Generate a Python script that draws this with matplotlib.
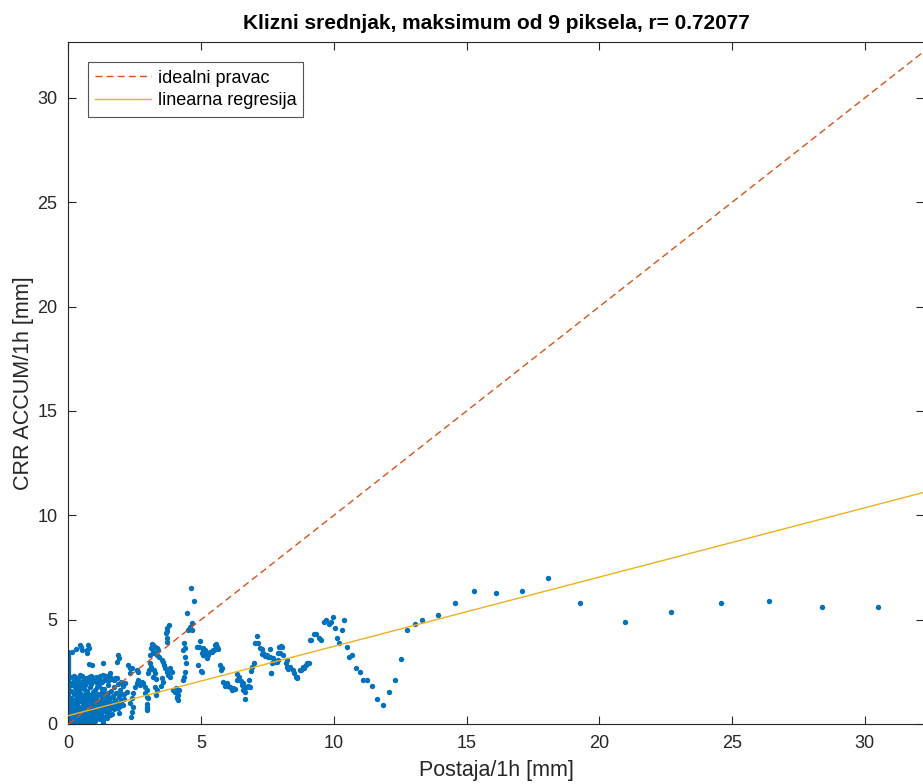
import numpy as np
import matplotlib
matplotlib.use("Agg")
import matplotlib.pyplot as plt

plt.rcParams['font.family'] = ['Liberation Sans', 'DejaVu Sans']

# points with zero gauge rain (x = 0)
zero_y = [0.02, 0.08, 0.14, 0.22, 0.3, 0.37, 0.45, 0.52, 0.6, 0.68, 0.75, 0.83, 0.9,
          0.98, 1.05, 1.13, 1.2, 1.28, 1.36, 1.44, 1.5, 1.58, 1.66, 1.74, 1.82, 1.9,
          1.97, 2.05, 2.13, 2.2, 2.28, 2.36, 2.45, 2.53, 2.62, 2.7, 2.79, 2.88, 2.97,
          3.06, 3.15, 3.25, 3.35, 3.45]

# dense cluster of small hourly amounts
low_x = [0.05, 0.1, 0.12, 0.18, 0.2, 0.25, 0.27, 0.3, 0.33, 0.38, 0.4, 0.42, 0.45, 0.5,
         0.52, 0.55, 0.58, 0.6, 0.63, 0.67, 0.7, 0.72, 0.75, 0.8, 0.83, 0.85, 0.9, 0.93,
         0.95, 1.0, 1.02, 1.05, 1.1, 1.12, 1.15, 1.2, 1.22, 1.25, 1.3, 1.32, 1.35, 1.4,
         1.45, 1.48, 1.5, 1.55, 1.6, 1.62, 1.68, 1.7, 1.75, 1.8, 1.85, 1.9, 1.95, 2.0,
         2.05, 2.1, 2.15, 2.2,
         0.08, 0.15, 0.22, 0.28, 0.35, 0.4, 0.47, 0.55, 0.6, 0.68, 0.73, 0.8, 0.88, 0.95,
         1.02, 1.08, 1.15, 1.22, 1.28, 1.35, 1.42, 1.5, 1.58, 1.65, 1.72, 1.8, 1.88, 1.97,
         0.06, 0.13, 0.2, 0.26, 0.32, 0.38, 0.44, 0.5, 0.57, 0.63, 0.7, 0.77, 0.84, 0.9,
         0.97, 1.04, 1.1, 1.17, 1.24, 1.3, 1.37, 1.44, 1.52, 1.6, 1.7, 1.78, 1.86, 1.95, 2.05,
         0.1, 0.17, 0.24, 0.31, 0.37, 0.43, 0.5, 0.56, 0.62, 0.7, 0.78, 0.86, 0.93, 1.0,
         1.08, 1.16, 1.25, 1.33, 1.4, 1.5, 1.6, 1.72, 1.82, 2.1,
         0.07, 0.14, 0.2, 0.3, 0.36, 0.45, 0.53, 0.6, 0.66, 0.75, 0.82, 0.9, 0.98, 1.06,
         1.12, 1.2, 1.28, 1.38, 1.46, 1.55, 1.65, 1.9,
         0.12, 0.2, 0.28, 0.4, 0.45, 0.52, 0.65, 0.78, 0.85, 0.95, 1.05, 1.18, 1.3, 1.42,
         1.58, 1.75, 2.0,
         0.09, 0.18, 0.25, 0.35, 0.42, 0.48, 0.6, 0.72, 0.88, 1.0, 1.3, 1.31, 1.32,
         0.15, 0.3, 0.45, 0.47, 0.5, 0.9, 1.3, 1.55,
         0.04, 0.16, 0.23, 0.34, 0.41, 0.54, 0.64, 0.74, 0.81, 0.92, 1.03, 1.14, 1.26,
         1.36, 1.47, 0.11, 0.29, 0.39, 0.49, 0.59, 0.69, 0.87, 0.99, 1.09, 1.19, 1.34,
         1.53, 1.63]
low_y = [1.0, 1.25, 0.75, 1.1, 1.45, 0.9, 1.2, 1.6, 1.0, 1.35, 0.8, 1.15, 1.5, 1.05,
         1.3, 0.85, 1.7, 1.2, 1.45, 0.95, 1.6, 1.25, 1.05, 1.4, 1.75, 0.9, 1.15, 1.55,
         1.3, 1.0, 1.65, 1.25, 1.45, 0.85, 1.8, 1.1, 1.35, 1.55, 1.2, 0.95, 1.7, 1.4,
         1.1, 1.5, 1.85, 1.25, 1.6, 0.95, 1.35, 1.75, 1.15, 1.5, 1.9, 1.3, 1.65, 1.45,
         1.8, 1.2, 1.95, 1.55,
         0.6, 0.7, 0.55, 0.65, 0.7, 0.5, 0.6, 0.55, 0.75, 0.65, 0.8, 0.6, 0.75, 0.7,
         0.85, 0.6, 0.9, 0.7, 0.95, 0.75, 0.85, 0.9, 0.8, 1.0, 0.85, 1.05, 0.95, 1.1,
         0.35, 0.45, 0.3, 0.4, 0.5, 0.35, 0.45, 0.4, 0.3, 0.5, 0.45, 0.55, 0.4, 0.5,
         0.6, 0.45, 0.55, 0.65, 0.5, 0.6, 0.7, 0.55, 0.65, 0.75, 0.7, 0.8, 0.75, 0.85, 0.9,
         1.85, 2.0, 1.75, 1.9, 2.1, 1.8, 1.95, 2.05, 1.85, 2.0, 2.15, 1.9, 2.05, 2.1,
         1.95, 2.15, 2.0, 2.1, 2.2, 2.05, 2.15, 2.1, 2.2, 1.45,
         0.15, 0.2, 0.1, 0.25, 0.15, 0.2, 0.25, 0.12, 0.3, 0.2, 0.25, 0.3, 0.2, 0.35,
         0.3, 0.25, 0.4, 0.35, 0.3, 0.45, 0.5, 0.55,
         2.25, 2.3, 2.2, 2.25, 2.35, 2.3, 2.2, 2.25, 2.3, 2.2, 2.25, 2.3, 2.35, 2.3,
         2.25, 2.2, 2.0,
         0.05, 0.02, 0.08, 0.04, 0.1, 0.06, 0.03, 0.08, 0.1, 0.12, 0.35, 0.2, 0.05,
         3.45, 3.6, 3.8, 3.7, 3.55, 2.85, 2.9, 2.45,
         1.15, 0.95, 1.55, 1.25, 0.65, 1.1, 0.9, 1.3, 1.15, 1.4, 1.15, 1.0, 1.7,
         1.05, 1.3, 1.6, 0.95, 1.7, 0.7, 1.85, 1.5, 1.95, 1.35, 1.75, 0.6, 1.5,
         1.05, 1.3]

# moderate amounts, 2 - 9 mm
mid_x = [0.75, 0.79, 0.71, 0.69, 0.79, 1.88, 1.92, 1.84, 2.26, 2.32, 2.57, 2.63,
         2.38, 2.32, 2.63, 2.76, 2.7, 2.57, 2.51, 2.82, 2.89, 2.95, 2.89, 2.95, 3.01,
         2.95, 2.97, 2.44, 2.38, 2.32, 2.42, 2.38, 2.35, 2.95, 2.97,
         3.14, 3.2, 3.26, 3.33, 3.39, 3.1, 3.18, 3.22, 3.07, 3.33, 3.42, 3.51, 3.57,
         3.6, 3.07, 3.1, 3.05, 3.01, 3.22, 3.26, 3.2, 3.3, 3.64, 3.7, 3.76, 3.83, 3.51,
         3.57, 3.48, 3.83, 3.89, 3.26, 3.33, 3.3, 3.8, 3.72, 3.68, 3.7, 3.72, 3.7,
         3.95, 4.01, 4.08, 4.14, 4.18, 4.05, 4.08, 4.14, 4.10, 4.39, 4.35, 4.31,
         4.61, 4.73, 4.46, 4.64, 4.58, 4.52, 4.64, 4.35, 4.39, 4.33, 4.39, 4.43,
         4.96, 4.83, 4.93, 5.06, 5.14, 5.27, 5.46, 5.59, 5.52, 5.02, 5.11, 5.33, 4.98,
         4.89, 5.08, 5.14, 5.06, 5.21, 5.27, 5.40, 5.48, 5.56, 5.61, 5.65, 5.02,
         5.71, 5.74, 5.77, 5.83, 5.9, 5.96, 6.02, 6.09, 6.15, 6.21, 6.27, 6.34, 6.36,
         6.44, 6.49, 6.53, 6.57, 6.61, 6.57, 6.65, 6.65, 6.72, 6.78, 6.84, 6.81, 6.87,
         6.9, 6.99, 7.03, 7.09, 7.15, 7.22, 7.28, 7.29, 7.34, 7.4, 7.47, 7.53, 7.58,
         7.59, 7.62, 7.63, 7.68, 7.72, 7.78, 7.85, 7.88, 7.91, 7.93, 7.97, 8.01, 8.03,
         8.09, 8.18, 8.22, 8.23, 8.28, 8.35, 8.47, 8.49, 8.56, 8.6, 8.62, 8.72, 8.76,
         8.85, 8.87, 8.95, 8.97, 9.05, 9.1]
mid_y = [3.79, 3.63, 3.55, 3.42, 2.87, 3.31, 3.15, 2.99, 2.83, 2.67, 2.59, 2.51,
         2.67, 2.43, 2.11, 2.03, 1.87, 1.95, 1.79, 1.95, 1.79, 1.63, 1.47, 1.31, 1.23,
         0.96, 0.75, 1.47, 1.23, 0.99, 0.83, 0.59, 0.35, 0.83, 0.67,
         3.83, 3.79, 3.7, 3.63, 3.55, 3.63, 3.46, 3.39, 3.31, 3.31, 3.2, 3.07, 2.99,
         2.83, 2.91, 2.72, 2.59, 2.43, 2.59, 2.43, 2.27, 2.14, 2.67, 2.51, 2.35, 2.27, 2.19,
         2.03, 1.82, 2.67, 2.51, 1.79, 1.63, 1.39, 4.74, 4.59, 4.35, 4.47, 4.11, 3.94,
         1.63, 1.55, 1.47, 1.39, 1.63, 1.71, 1.31, 1.15, 1.23, 2.51, 2.27, 2.11,
         6.5, 5.89, 5.3, 4.82, 4.66, 4.5, 4.5, 3.87, 3.63, 3.55, 3.22, 2.91,
         3.99, 3.7, 3.7, 3.63, 3.55, 3.39, 3.55, 3.7, 3.79, 3.39, 3.31, 3.46, 2.55,
         2.83, 3.55, 3.39, 3.31, 3.15, 3.31, 3.46, 3.55, 3.83, 3.7, 3.58, 2.51,
         2.83, 2.59, 2.67, 2.03, 1.82, 1.95, 1.82, 1.76, 1.63, 1.71, 1.66, 2.11, 2.4,
         2.24, 2.07, 1.87, 1.95, 1.76, 1.63, 1.55, 1.2, 1.76, 1.82, 1.79, 2.11, 2.55,
         2.75, 2.91, 3.9, 4.22, 3.9, 3.63, 3.58, 3.35, 3.39, 3.26, 3.31, 3.2, 3.61,
         3.22, 2.43, 2.43, 2.94, 3.15, 2.99, 2.99, 3.07, 3.42, 3.7, 3.39, 3.74, 3.7,
         3.31, 2.91, 3.07, 2.75, 2.62, 2.72, 2.59, 2.43, 2.27, 2.27, 2.19, 2.59, 2.6,
         2.75, 2.7, 2.81, 2.91, 2.91, 4.02]

# larger amounts, above 9 mm
high_x = [9.15, 9.24, 9.33, 9.44, 9.53, 9.62, 9.7, 9.82, 9.89, 9.95, 10.05, 10.12,
          10.2, 10.29, 10.39, 10.48, 10.58, 10.69, 10.83, 10.97, 11.11, 11.26, 11.45,
          11.64, 11.86, 12.09, 12.31, 12.53, 12.77, 13.04, 13.33, 13.93, 14.57, 15.28,
          16.1, 17.07, 18.08, 19.28, 20.95, 22.7, 24.6, 26.4, 28.4, 30.5]
high_y = [4.01, 4.3, 4.3, 4.11, 4.01, 4.9, 5.0, 4.81, 4.9, 5.11, 4.6, 4.1,
          3.9, 4.5, 5.0, 3.7, 3.2, 3.31, 2.7, 2.51, 2.11, 2.11, 1.81,
          1.21, 0.91, 1.52, 2.11, 3.1, 4.5, 4.81, 5.0, 5.21, 5.8, 6.39,
          6.29, 6.39, 6.98, 5.8, 4.87, 5.38, 5.8, 5.9, 5.6, 5.6]

slope = 0.332
intercept = 0.40
r_value = 0.72077

blue = '#0072BD'
orange = '#D95319'
yellow = '#EDB120'
axis_col = '#262626'

fig = plt.figure(figsize=(9.23, 7.84), dpi=100)
ax = fig.add_axes([68.4 / 923, 60 / 784, (924 - 68.4) / 923, 682 / 784])

pts_x = np.concatenate([np.zeros(len(zero_y)), low_x, mid_x, high_x])
pts_y = np.concatenate([zero_y, low_y, mid_y, high_y])
ax.scatter(pts_x, pts_y, s=15, color=blue, linewidths=0, zorder=2)

xx = np.array([0, 34])
ax.plot(xx, xx, '--', color=orange, lw=1.0, dashes=(5, 3), label='idealni pravac', zorder=3)
ax.plot(xx, intercept + slope * xx, '-', color=yellow, lw=1.0, label='linearna regresija', zorder=3)

ax.set_xlim(0, 32.23)
ax.set_ylim(0, 32.68)
ax.set_xticks([0, 5, 10, 15, 20, 25, 30])
ax.set_yticks([0, 5, 10, 15, 20, 25, 30])
ax.tick_params(direction='in', length=6, width=0.8, colors=axis_col, labelsize=13,
               top=True, right=True, pad=8)
for sp in ax.spines.values():
    sp.set_color(axis_col)
    sp.set_linewidth(0.8)

ax.set_xlabel('Postaja/1h [mm]', fontsize=15.5, color=axis_col, labelpad=6)
ax.set_ylabel('CRR ACCUM/1h [mm]', fontsize=15.5, color=axis_col, labelpad=2)
ax.set_title('Klizni srednjak, maksimum od 9 piksela, r= %.5f' % r_value,
             fontsize=15, fontweight='bold', color='black', pad=9)

leg = ax.legend(loc='upper left', bbox_to_anchor=(0.023, 0.97), fontsize=13,
                frameon=True, fancybox=False, edgecolor=axis_col, handlelength=3.1,
                handletextpad=0.35, borderpad=0.4, labelspacing=0.32, borderaxespad=0)
leg.get_frame().set_linewidth(0.8)

fig.savefig('out.png', dpi=100)
